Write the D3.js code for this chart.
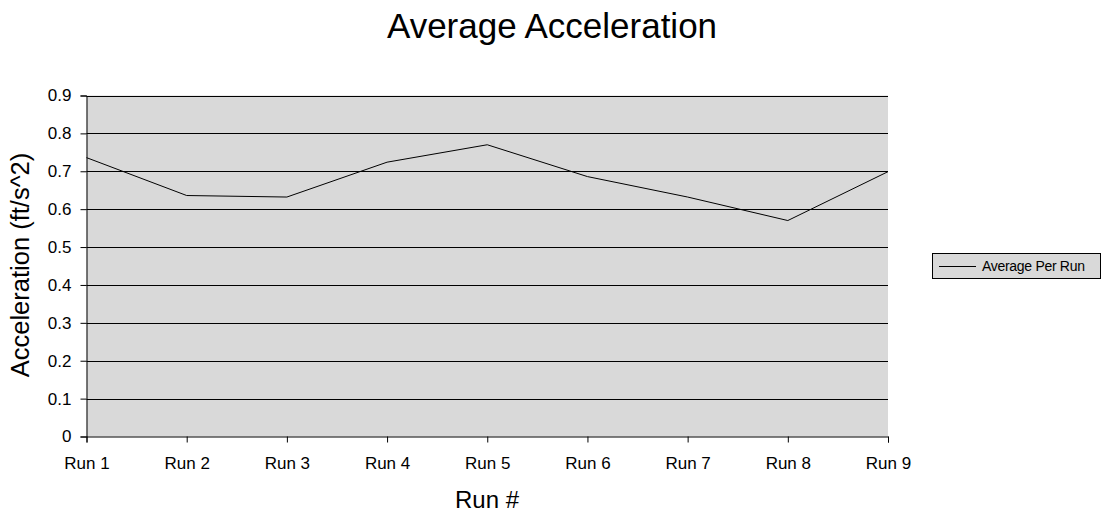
<!DOCTYPE html>
<html>
<head>
<meta charset="utf-8">
<script src="https://cdn.jsdelivr.net/npm/d3@7"></script>
<style>
  html, body { margin: 0; padding: 0; background: #fff; }
  svg { display: block; font-family: "Liberation Sans", Arial, sans-serif; }
</style>
</head>
<body>
<svg id="chart" width="1109" height="514"></svg>
<script>
const categories = ["Run 1", "Run 2", "Run 3", "Run 4", "Run 5", "Run 6", "Run 7", "Run 8", "Run 9"];
const averagePerRun = [0.736, 0.636, 0.632, 0.724, 0.770, 0.686, 0.632, 0.570, 0.699];
const yTicks = [0, 0.1, 0.2, 0.3, 0.4, 0.5, 0.6, 0.7, 0.8, 0.9];
const seriesName = "Average Per Run";
const titleText = "Average Acceleration";
const xTitle = "Run #";
const yTitle = "Acceleration (ft/s^2)";

const svg = d3.select("#chart");
const pLeft = 86.5, pRight = 888, pTop = 95.5, pBottom = 436.5;

const x = d3.scalePoint().domain(categories).range([pLeft, pRight]);
const y = d3.scaleLinear().domain([0, 0.9]).range([pBottom, pTop]);

// plot background
svg.append("rect").attr("x", pLeft).attr("y", pTop)
  .attr("width", pRight - pLeft).attr("height", pBottom - pTop)
  .attr("fill", "#d9d9d9");

// gridlines
svg.append("g").selectAll("line").data(yTicks.filter(d => d > 0)).join("line")
  .attr("x1", pLeft).attr("x2", pRight)
  .attr("y1", d => Math.round(y(d)) + 0.5).attr("y2", d => Math.round(y(d)) + 0.5)
  .attr("stroke", "#000").attr("stroke-width", 1);

// y axis
const yAxis = svg.append("g").attr("transform", `translate(${pLeft},0)`)
  .call(d3.axisLeft(y).tickValues(yTicks).tickFormat(d => d === 0 ? "0" : d3.format(".1f")(d)).tickSize(6).tickPadding(9));
yAxis.select(".domain").attr("stroke", "#000");
yAxis.selectAll(".tick line").attr("stroke", "#000");
yAxis.selectAll(".tick text").attr("font-size", 17).attr("fill", "#000")
  .attr("font-family", "Liberation Sans, Arial, sans-serif");

// x axis
const xAxis = svg.append("g").attr("transform", `translate(0,${pBottom})`)
  .call(d3.axisBottom(x).tickSize(6).tickPadding(14));
xAxis.select(".domain").attr("stroke", "#000");
xAxis.selectAll(".tick line").attr("stroke", "#000");
xAxis.selectAll(".tick text").attr("font-size", 17).attr("fill", "#000")
  .attr("font-family", "Liberation Sans, Arial, sans-serif");

// line
const line = d3.line().x((d, i) => x(categories[i])).y(d => y(d));
svg.append("path").datum(averagePerRun)
  .attr("d", line).attr("fill", "none").attr("stroke", "#000").attr("stroke-width", 1);

// title
svg.append("text").attr("x", 552).attr("y", 38).attr("text-anchor", "middle")
  .attr("font-size", 35).attr("fill", "#000").text(titleText);

// axis titles
svg.append("text").attr("x", 487).attr("y", 508).attr("text-anchor", "middle")
  .attr("font-size", 24).attr("fill", "#000").text(xTitle);
svg.append("text").attr("transform", "translate(29,265) rotate(-90)").attr("text-anchor", "middle")
  .attr("font-size", 25.5).attr("fill", "#000").text(yTitle);

// legend
const lg = svg.append("g");
lg.append("rect").attr("x", 932.5).attr("y", 253.5).attr("width", 168).attr("height", 25)
  .attr("fill", "#d9d9d9").attr("stroke", "#000").attr("stroke-width", 1);
lg.append("line").attr("x1", 939).attr("x2", 976).attr("y1", 266.5).attr("y2", 266.5)
  .attr("stroke", "#000").attr("stroke-width", 1);
lg.append("text").attr("x", 982).attr("y", 271).attr("font-size", 14).attr("fill", "#000")
  .attr("letter-spacing", -0.3).text(seriesName);
</script>
</body>
</html>
